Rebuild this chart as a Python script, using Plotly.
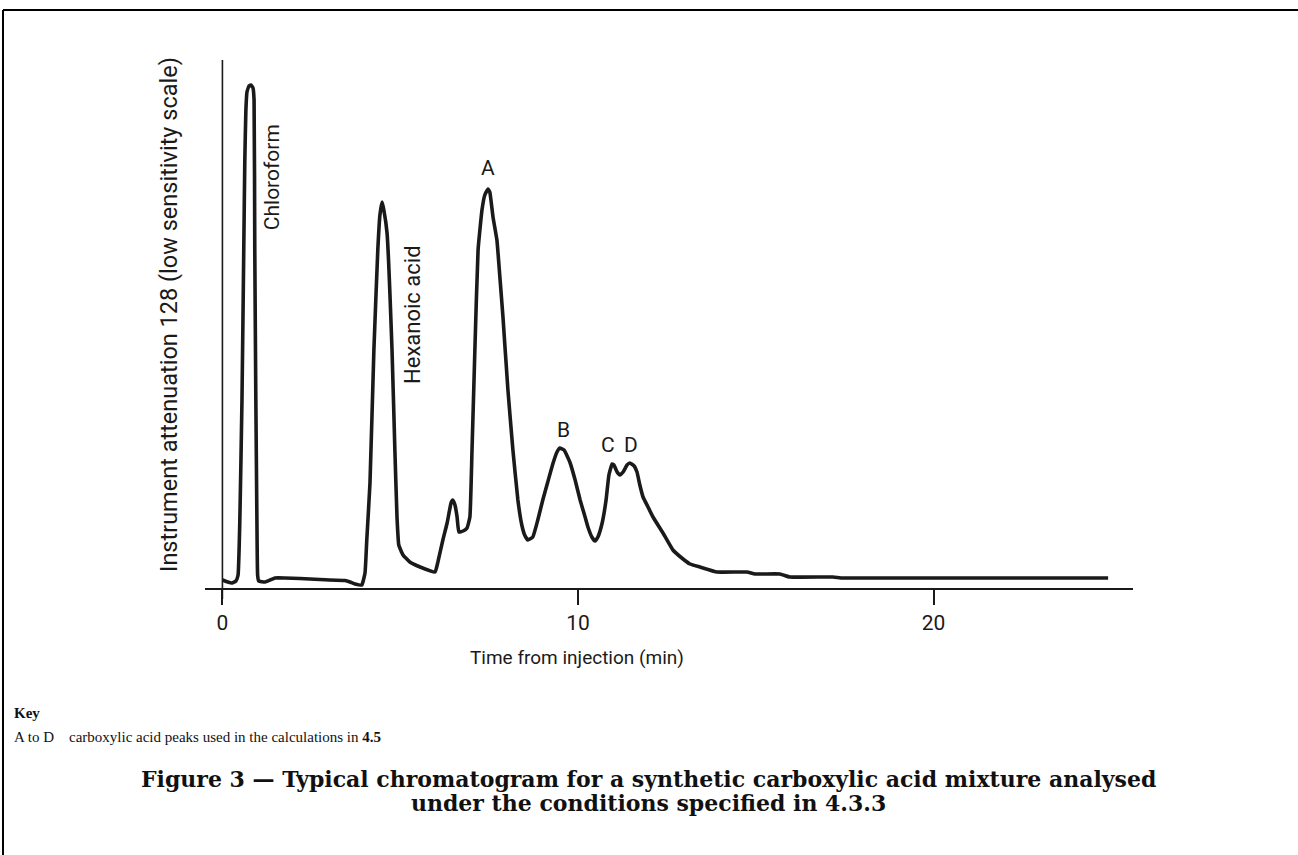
import plotly.graph_objects as go

# Chromatogram trace (time in min, detector signal in arbitrary units)
time_min = [0.00, 0.15, 0.27, 0.38, 0.44, 0.49, 0.55, 0.60, 0.63, 0.66, 0.69, 0.75, 0.80, 0.86, 0.89,
            0.91, 0.94, 0.97, 0.99, 1.02, 1.20, 1.34, 1.48, 1.76, 2.18, 2.74, 3.45, 3.59, 3.73, 3.92,
            4.01, 4.06, 4.15, 4.26, 4.37, 4.43, 4.49, 4.54, 4.63, 4.77, 4.85, 4.91, 4.96, 5.08, 5.27,
            5.56, 5.98, 6.06, 6.20, 6.32, 6.43, 6.48, 6.54, 6.60, 6.65, 6.77, 6.88, 6.96, 7.02, 7.10,
            7.19, 7.30, 7.38, 7.47, 7.52, 7.61, 7.72, 7.81, 7.89, 8.03, 8.17, 8.31, 8.42, 8.50, 8.59,
            8.73, 8.87, 9.01, 9.15, 9.30, 9.41, 9.49, 9.61, 9.77, 9.92, 10.06, 10.20, 10.28, 10.39, 10.48,
            10.56, 10.68, 10.79, 10.87, 10.96, 11.01, 11.10, 11.18, 11.27, 11.38, 11.46, 11.58, 11.66, 11.74, 11.83,
            11.97, 12.11, 12.39, 12.67, 12.92, 13.15, 13.43, 13.91, 14.75, 14.98, 15.68, 15.96, 17.17, 17.45, 24.91]
signal = [8, 6, 5, 7, 13, 68, 188, 338, 428, 478, 496, 502, 503, 500, 488,
          338, 188, 68, 13, 7, 6, 8, 10, 10, 9.5, 8.5, 7.5, 6, 4, 3,
          15, 48, 105, 238, 338, 373, 386, 378, 355, 238, 138, 71, 43, 33, 26,
          21, 16, 26, 48, 65, 85, 88, 83, 71, 56, 57, 60, 71, 138, 238,
          338, 378, 393, 399, 396, 371, 348, 308, 271, 198, 138, 88, 63, 53, 48,
          51, 68, 88, 106, 125, 136, 140, 138, 126, 108, 88, 71, 61, 51, 47,
          51, 65, 88, 113, 124, 123, 116, 113, 116, 123, 125, 122, 116, 103, 91,
          81, 71, 55, 38, 30, 24, 21, 16, 16, 14, 14, 11, 11, 10, 10]

x_ticks = [0, 10, 20]
x_tick_labels = ["0", "10", "20"]

peak_labels = ["A", "B", "C", "D"]
peak_label_t = [7.47, 9.58, 10.84, 11.49]
peak_label_y = [420, 158, 143, 143]

compound_labels = ["Chloroform", "Hexanoic acid"]
compound_label_t = [1.40, 5.33]
compound_label_y = [411, 274]

x_title = "Time from injection (min)"
y_title = "Instrument attenuation 128 (low sensitivity scale)"
key_title = "Key"
key_line = "A to D&#160;&#160;&#160;&#160;carboxylic acid peaks used in the calculations in <b>4.5</b>"
caption_lines = ["Figure 3 \u2014 Typical chromatogram for a synthetic carboxylic acid mixture analysed",
                 "under the conditions specified in 4.3.3"]

X_RANGE = [-0.49, 25.61]
Y_RANGE = [0, 528]
L, R, T, B = 205, 165, 60, 267
W, H = 1298, 855
PW, PH = W - L - R, H - T - B

def px(xp):
    return (xp - L) / PW

def py(yp):
    return (H - B - yp) / PH

SANS = "Roboto, sans-serif"
INK = "#1a1a1a"

fig = go.Figure()
fig.add_trace(go.Scatter(x=time_min, y=signal, mode="lines",
                         line=dict(color=INK, width=3.6, shape="spline", smoothing=0.35),
                         hoverinfo="skip", showlegend=False))

annotations = []
for lab, t, y in zip(peak_labels, peak_label_t, peak_label_y):
    annotations.append(dict(x=t, y=y, xref="x", yref="y", text=lab, showarrow=False,
                            xanchor="center", yanchor="middle",
                            font=dict(family=SANS, size=21, color=INK)))
compound_sizes = [21, 22]
for lab, t, y, s in zip(compound_labels, compound_label_t, compound_label_y, compound_sizes):
    annotations.append(dict(x=t, y=y, xref="x", yref="y", text=lab, showarrow=False, textangle=-90,
                            xanchor="center", yanchor="middle",
                            font=dict(family=SANS, size=s, color=INK)))

annotations.append(dict(x=px(577), y=py(657), xref="paper", yref="paper", text=x_title, showarrow=False,
                        xanchor="center", yanchor="middle",
                        font=dict(family=SANS, size=19, color=INK)))
annotations.append(dict(x=px(169), y=py(315), xref="paper", yref="paper", text=y_title, showarrow=False,
                        textangle=-90, xanchor="center", yanchor="middle",
                        font=dict(family=SANS, size=23.5, color=INK)))
annotations.append(dict(x=px(12), y=py(713), xref="paper", yref="paper", text="<b>" + key_title + "</b>",
                        showarrow=False, xanchor="left", yanchor="middle",
                        font=dict(family="Liberation Serif, serif", size=15, color="#111")))
annotations.append(dict(x=px(12), y=py(737), xref="paper", yref="paper", text=key_line,
                        showarrow=False, xanchor="left", yanchor="middle",
                        font=dict(family="Liberation Serif, serif", size=15, color="#111")))
for line, yp in zip(caption_lines, [779, 803]):
    annotations.append(dict(x=px(648), y=py(yp), xref="paper", yref="paper", text="<b>" + line + "</b>",
                            showarrow=False, xanchor="center", yanchor="middle",
                            font=dict(family="DejaVu Serif, serif", size=22, color="#111")))

zero_paper_x = (0 - X_RANGE[0]) / (X_RANGE[1] - X_RANGE[0])
shapes = [
    # y axis drawn at t = 0
    dict(type="line", xref="paper", yref="paper", x0=zero_paper_x, x1=zero_paper_x,
         y0=py(599), y1=1.0, line=dict(color=INK, width=1.6)),
    # frame
    dict(type="line", xref="paper", yref="paper", x0=px(3), x1=px(1298), y0=py(10), y1=py(10),
         line=dict(color="black", width=2)),
    dict(type="line", xref="paper", yref="paper", x0=px(3), x1=px(3), y0=py(10), y1=py(856),
         line=dict(color="black", width=2)),
]

fig.update_layout(
    width=W, height=H, margin=dict(l=L, r=R, t=T, b=B),
    paper_bgcolor="white", plot_bgcolor="white",
    xaxis=dict(range=X_RANGE, tickvals=x_ticks, ticktext=x_tick_labels, showgrid=False, zeroline=False,
               showline=True, linecolor=INK, linewidth=1.6, ticks="outside", ticklen=15,
               tickwidth=1.6, tickcolor=INK,
               tickfont=dict(family=SANS, size=21, color=INK)),
    yaxis=dict(range=Y_RANGE, showgrid=False, zeroline=False, showline=False, showticklabels=False,
               ticks=""),
    annotations=annotations, shapes=shapes,
)

fig.write_html("out.html")
